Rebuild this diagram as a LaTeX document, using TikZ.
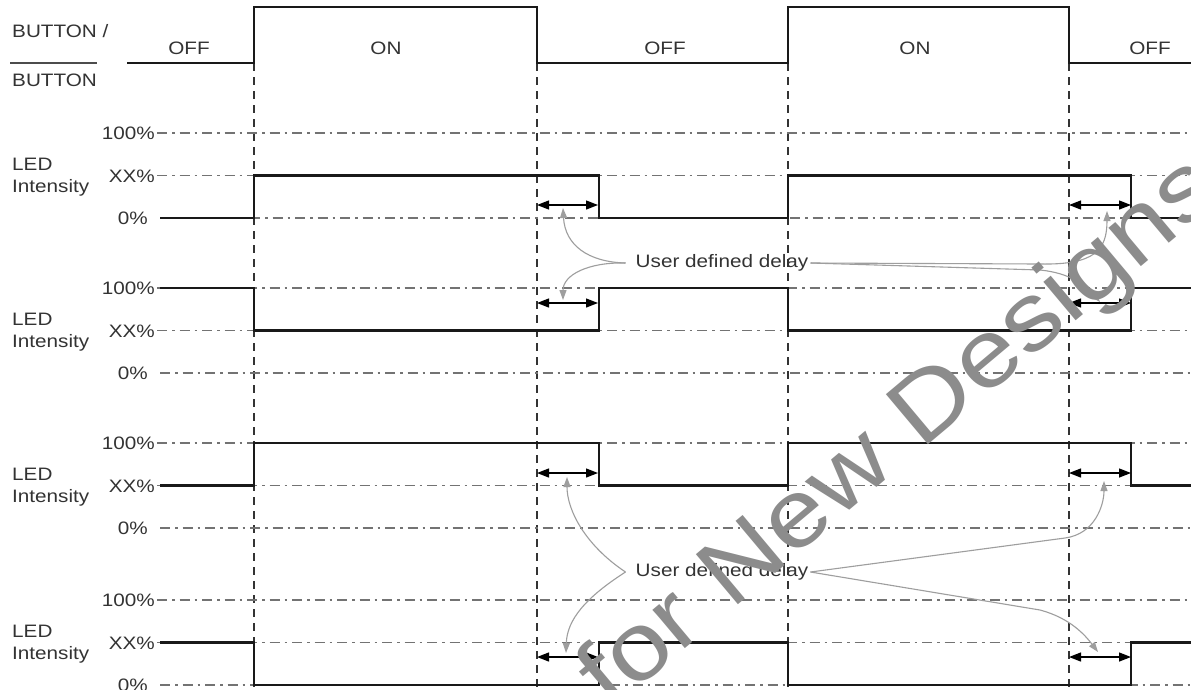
\documentclass[tikz,border=0pt]{standalone}
\usepackage{fontspec}
\setmainfont{Liberation Sans}[FakeStretch=1.15]
\usetikzlibrary{arrows.meta}
\begin{document}
\begin{tikzpicture}[x=1pt,y=-1pt,
  sig/.style={line width=2.2pt, color=black!90, line join=miter},
  gridln/.style={line width=1.4pt, color=black!55, dash pattern=on 10pt off 5pt on 2.5pt off 5pt},
  vdash/.style={line width=1.4pt, color=black!80, dash pattern=on 8pt off 6pt},
  lbl/.style={font=\fontsize{18}{22}\selectfont, text=black!80, inner sep=0pt},
  delay/.style={line width=1.3pt, black, {Triangle[length=12pt,width=9pt]}-{Triangle[length=12pt,width=9pt]}},
  callout/.style={line width=1.1pt, color=black!38, -{Triangle[length=10pt,width=7pt]}},
  wmark/.style={font=\fontsize{95}{95}\selectfont, text=black!45, inner sep=0pt},
]
\useasboundingbox (0,0) rectangle (1191,689);
\fill[white] (0,0) rectangle (1191,689);

% left labels
\node[lbl, anchor=base west] (b1) at (12,37) {BUTTON /};
\node[lbl, anchor=base west] (b2) at (12,86) {BUTTON};
\draw[line width=1.2pt, black!70] (10,63) -- (97,63);

% state labels
\node[lbl, anchor=base] (s1) at (189,54) {OFF};
\node[lbl, anchor=base] (s2) at (386,54) {ON};
\node[lbl, anchor=base] (s3) at (665,54) {OFF};
\node[lbl, anchor=base] (s4) at (915,54) {ON};
\node[lbl, anchor=base] (s5) at (1150,54) {OFF};

% vertical dashed lines
\foreach \xx in {254,537,788,1069} \draw[vdash] (\xx,63) -- (\xx,689);

% panels
\foreach \p/\yh in {1/133,2/288,3/443,4/600} {
  \pgfmathsetmacro{\yx}{\yh+42.5}
  \pgfmathsetmacro{\yz}{\yh+85}
  \draw[gridln] (157,\yh) -- (1191,\yh);
  \draw[gridln] (157,\yx) -- (1191,\yx);
  \draw[gridln] (160,\yz) -- (1191,\yz);
  \node[lbl, anchor=base east] (h\p) at (155,\yh+6.5) {100\%};
  \node[lbl, anchor=base east] (x\p) at (155,\yx+6.5) {XX\%};
  \node[lbl, anchor=base east] (z\p) at (148,\yz+6.5) {0\%};
  \node[lbl, anchor=base west] (l\p) at (12,\yh+37) {LED};
  \node[lbl, anchor=base west] (i\p) at (12,\yh+59) {Intensity};
}

% button signal
\draw[sig] (127,63) -- (254,63) -- (254,7) -- (537,7) -- (537,63) -- (788,63) -- (788,7) -- (1069,7) -- (1069,63) -- (1191,63);

% LED signals
\def\A{133}\def\B{175.5}\def\C{218}
\draw[sig] (160,\C) -- (254,\C) -- (254,\B) -- (599,\B) -- (599,\C) -- (788,\C) -- (788,\B) -- (1131,\B) -- (1131,\C) -- (1191,\C);
\def\A{288}\def\B{330.5}\def\C{373}
\draw[sig] (160,\A) -- (254,\A) -- (254,\B) -- (599,\B) -- (599,\A) -- (788,\A) -- (788,\B) -- (1131,\B) -- (1131,\A) -- (1191,\A);
\def\A{443}\def\B{485.5}\def\C{528}
\draw[sig] (160,\B) -- (254,\B) -- (254,\A) -- (599,\A) -- (599,\B) -- (788,\B) -- (788,\A) -- (1131,\A) -- (1131,\B) -- (1191,\B);
\def\A{600}\def\B{642.5}\def\C{685}
\draw[sig] (160,\B) -- (254,\B) -- (254,\C) -- (599,\C) -- (599,\B) -- (788,\B) -- (788,\C) -- (1131,\C) -- (1131,\B) -- (1191,\B);

% delay arrows
\foreach \yy in {205,303,473,657} {
  \draw[delay] (537,\yy) -- (598,\yy);
  \draw[delay] (1069,\yy) -- (1131,\yy);
}

% callouts
\node[lbl] (u1) at (722,263) {User defined delay};
\node[lbl] (u2) at (722,572) {User defined delay};
\coordinate (u1w) at ([xshift=-10pt]u1.west);
\coordinate (u1e) at ([xshift=2pt]u1.east);
\coordinate (u2w) at ([xshift=-10pt]u2.west);
\coordinate (u2e) at ([xshift=2pt]u2.east);
\draw[callout] (u1w) .. controls (588,262) and (565,245) .. (563,208);
\draw[callout] (u1w) .. controls (588,262) and (563,275) .. (563,300);
\draw[callout] (u1e) -- (1040,264) .. controls (1095,265) and (1107,250) .. (1107,211);
\draw[callout] (u1e) -- (1040,270) .. controls (1070,273) and (1085,285) .. (1100,302);
\draw[callout] (u2w) .. controls (585,545) and (567,510) .. (567,477);
\draw[callout] (u2w) .. controls (585,598) and (567,620) .. (566,653);
\draw[callout] (u2e) -- (1065,538) .. controls (1095,534) and (1104,505) .. (1104,481);
\draw[callout] (u2e) -- (1040,610) .. controls (1070,618) and (1085,635) .. (1098,652);

% watermark
\node[wmark, rotate=40, anchor=base west] (wm) at (610,712) {for New Designs};
\end{tikzpicture}
\end{document}
